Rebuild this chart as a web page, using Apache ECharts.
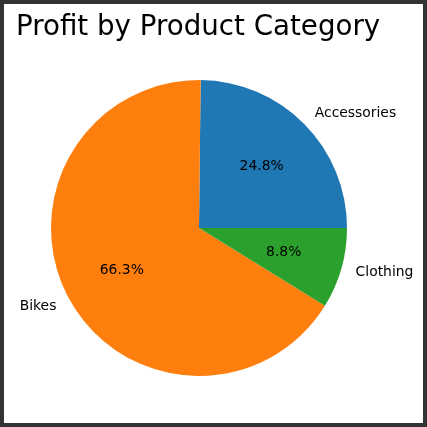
<!DOCTYPE html>
<html><head><meta charset="utf-8">
<script src="https://cdn.jsdelivr.net/npm/echarts@6/dist/echarts.min.js"></script>
<style>html,body{margin:0;padding:0;background:#fff}#c{width:427px;height:427px}</style>
</head><body><div id="c"></div>
<script>
const categories = ['Accessories', 'Bikes', 'Clothing'];
const profitShare = [24.8, 66.3, 8.8];
const colors = ['#1f77b4', '#ff7f0e', '#2ca02c'];
const titleText = 'Profit by Product Category';

const R = 148;
const center = [199, 228];
const data = categories.map((name, i) => ({ name, value: profitShare[i], itemStyle: { color: colors[i] } }));
const chart = echarts.init(document.getElementById('c'), null, { renderer: 'canvas' });
chart.setOption({
  animation: false,
  title: {
    text: titleText, left: 16, top: 14, padding: 0,
    textStyle: { fontFamily: 'DejaVu Sans', fontSize: 27.7, fontWeight: 'normal', color: '#000' }
  },
  graphic: [{
    type: 'rect', shape: { x: 2, y: 2, width: 423, height: 423 },
    style: { fill: 'none', stroke: '#333333', lineWidth: 4 }, z: 100
  }],
  series: [
    {
      type: 'pie', center, radius: [0, R], startAngle: 0, clockwise: false,
      data, silent: true, avoidLabelOverlap: false,
      label: {
        show: true, position: 'outside', formatter: '{b}', padding: [6, 0, 0, 0],
        fontFamily: 'DejaVu Sans', fontSize: 13.9, color: '#000', distanceToLabelLine: 0
      },
      labelLine: { show: false, length: R * 0.1, length2: 0 },
      emphasis: { disabled: true }
    },
    {
      type: 'pie', center, radius: [0, R * 1.15], startAngle: 0, clockwise: false,
      data: data.map(d => ({ name: d.name, value: d.value })), silent: true,
      itemStyle: { color: 'rgba(0,0,0,0)' },
      label: {
        show: true, position: 'inside', formatter: p => p.value.toFixed(1) + '%', padding: [3, 0, 0, 0],
        fontFamily: 'DejaVu Sans', fontSize: 13.9, color: '#000'
      },
      labelLine: { show: false },
      emphasis: { disabled: true }
    }
  ]
});
</script></body></html>
